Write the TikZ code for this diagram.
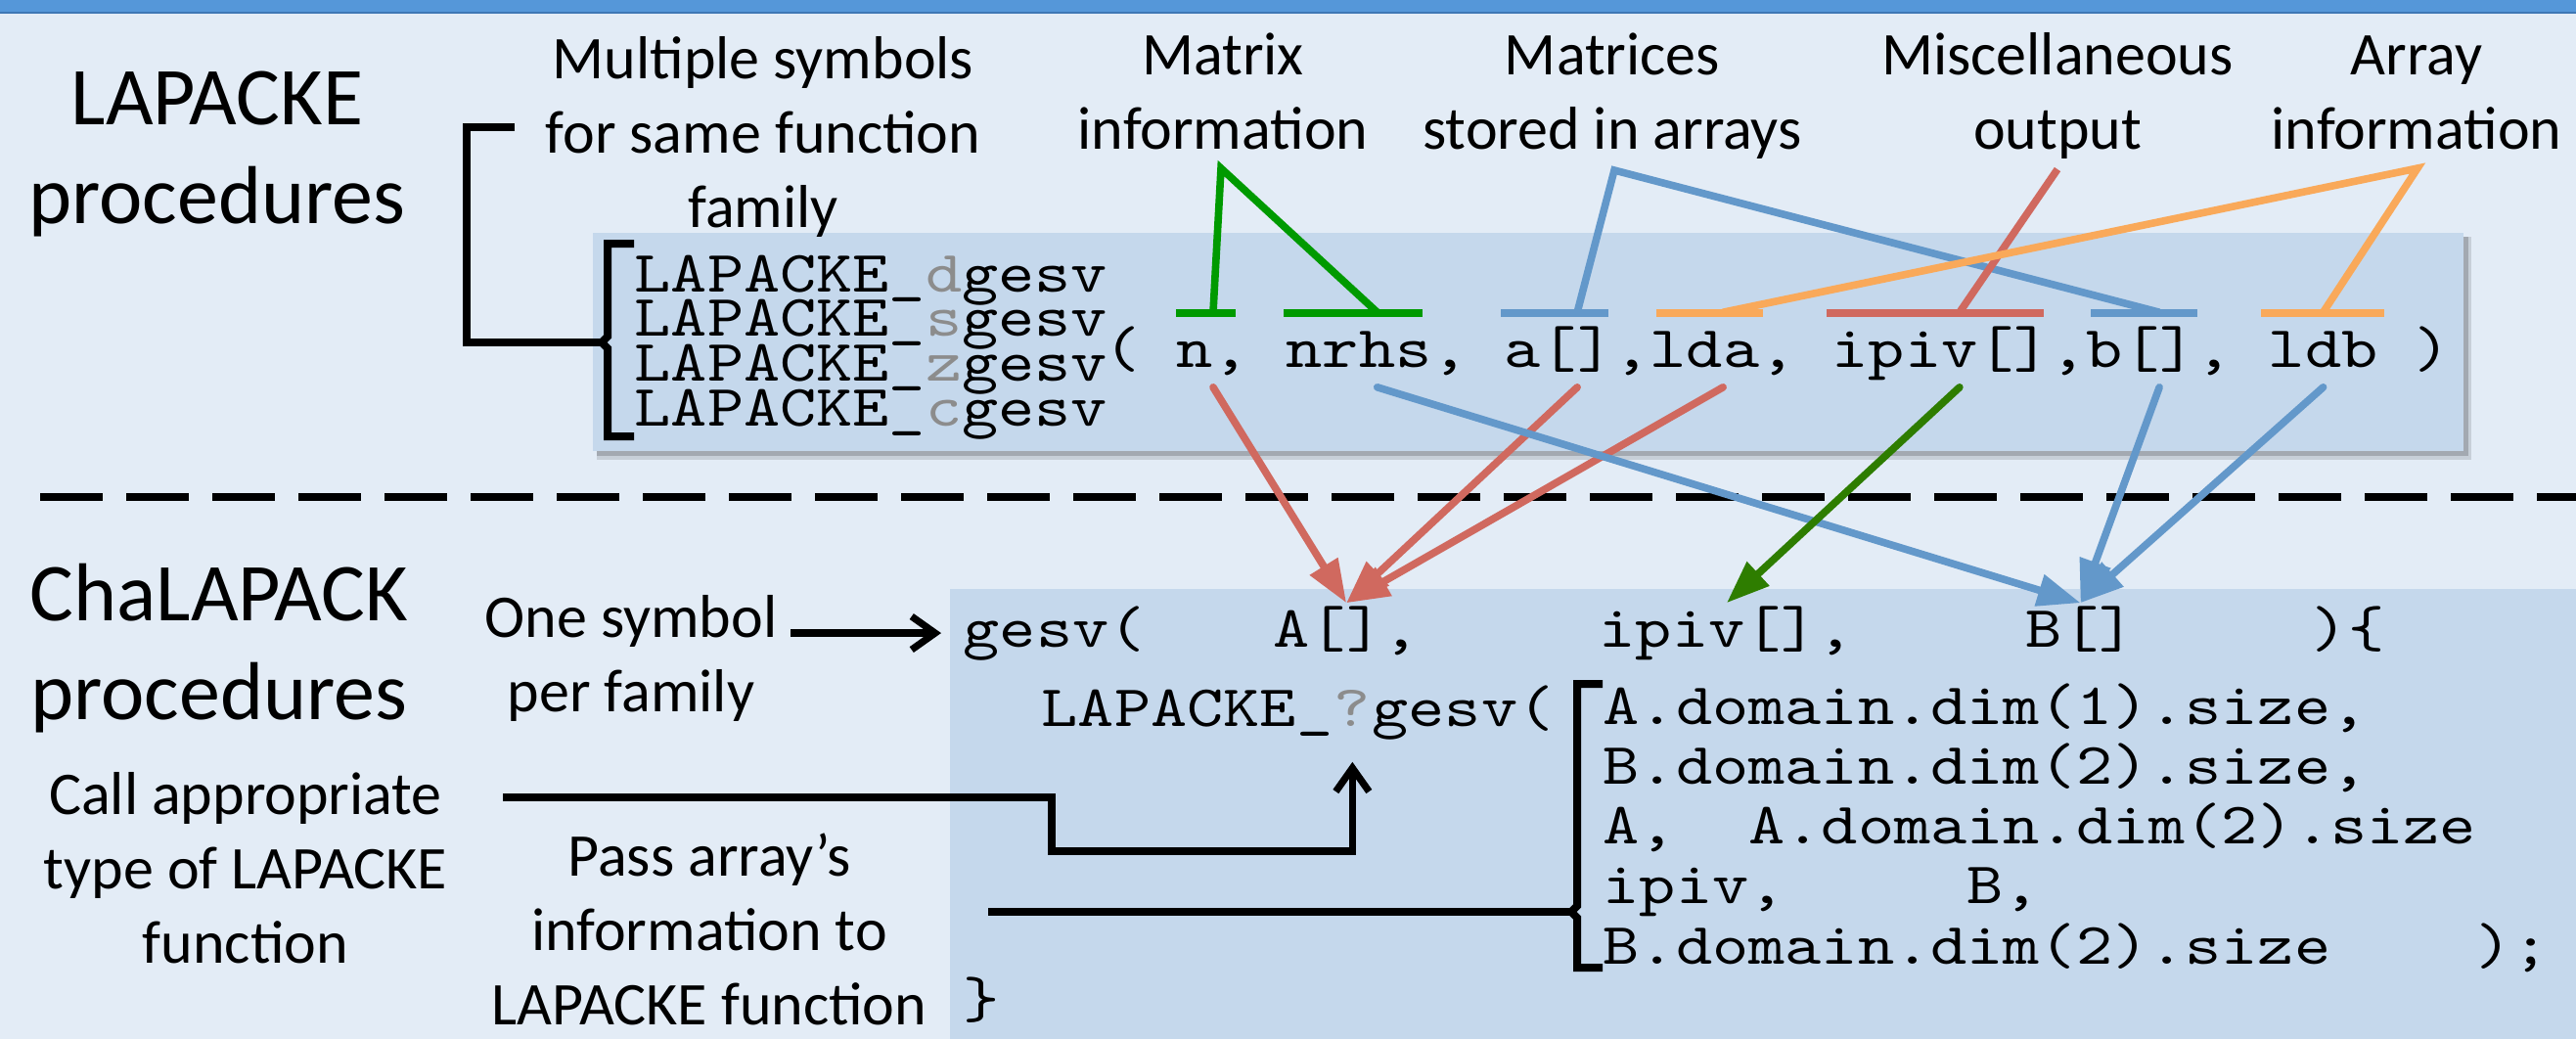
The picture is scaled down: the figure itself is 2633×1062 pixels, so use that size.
\documentclass[tikz,border=0pt]{standalone}
\usepackage{fontspec}
\setmainfont{Carlito}
\setmonofont{lmmono10-regular.otf}[FakeStretch=1.18]
\usetikzlibrary{arrows.meta,positioning,calc}

\definecolor{bgblue}{HTML}{E3ECF6}
\definecolor{boxblue}{HTML}{C5D8EC}
\definecolor{stripblue}{HTML}{5597D9}
\definecolor{stripline}{HTML}{3E77B5}
\definecolor{grn}{HTML}{009A00}
\definecolor{dkgrn}{HTML}{2E7D00}
\definecolor{rd}{HTML}{D0695F}
\definecolor{blu}{HTML}{6398CA}
\definecolor{org}{HTML}{F9A95A}
\definecolor{symgray}{HTML}{8C8C8C}

\tikzset{
    lbl/.style={font=\fontsize{15.5}{19}\selectfont, align=center, anchor=base},
    biglbl/.style={font=\fontsize{21}{25.25}\selectfont, align=center, anchor=base},
    code/.style={font=\ttfamily\fontsize{15}{15.3}\selectfont, anchor=base west, inner sep=0pt},
    arg/.style={code, text height=13.75pt, text depth=5pt},
    tgt/.style={code, text height=11pt, text depth=0pt},
    bar/.style={line width=1.9pt},
    link/.style={line width=1.9pt, line join=miter},
    arr/.style={line width=1.9pt, line cap=round, -{Triangle[length=11pt,width=8pt]}},
    blk/.style={line width=1.8pt, black},
    barb/.style={-{Straight Barb[length=6pt,width=8.5pt]}},
}

\begin{document}
\begin{tikzpicture}[x=0.25pt,y=-0.25pt]
    \useasboundingbox (0,0) rectangle (2633,1062);
    \fill[bgblue] (0,0) rectangle (2633,1062);
    \fill[stripblue] (0,0) rectangle (2633,13);
    \draw[stripline, line width=0.6pt] (0,13) -- (2633,13);
    \draw[line width=2pt, dash pattern=on 16pt off 6pt] (41,508) -- (2633,508);

    % Boxes
    \fill[black, opacity=0.12] (610,242) rectangle (2526,470);
    \fill[black, opacity=0.18] (610,242) rectangle (2523,466);
    \fill[boxblue] (606,238) rectangle (2518,461);
    \fill[boxblue] (971,602) rectangle (2633,1062);

    % LAPACKE
    \node[biglbl] (lpk) at (222,228) {LAPACKE\\procedures};
    \node[lbl] (msym) at (780,232) {Multiple symbols\\for same function\\family};
    \node[lbl] (mi) at (1250,152) {Matrix\\information};
    \node[lbl] (ms) at (1648,152) {Matrices\\stored in arrays};
    \node[lbl] (mo) at (2103,152) {Miscellaneous\\output};
    \node[lbl] (ai) at (2470,152) {Array\\information};

    \foreach \t [count=\i] in {d,s,z,c}
        \node[code] (fam\i) at (648,{298+45.7*(\i-1)}) {LAPACKE\_\textcolor{symgray}{\t}gesv};

    \node[code] (lp) at (1128,375) {(};
    \node[arg] (an) at (1202,375) {n,};
    \node[arg] (anrhs) at (1314,375) {nrhs,};
    \node[arg] (aa) at (1537,375) {a[],};
    \node[arg] (alda) at (1686,375) {lda,};
    \node[arg] (aipiv) at (1872,375) {ipiv[],};
    \node[arg] (ab) at (2132,375) {b[],};
    \node[arg] (aldb) at (2318,375) {ldb};
    \node[code] (rp) at (2467,375) {)};

    \draw[line width=2pt] (648,249) -- (621,249) -- (621,344) -- (615,350) -- (621,356) -- (621,446) -- (648,446);
    \coordinate (fb) at (615,350);
    \coordinate (msym-in) at (526,130);
    \draw[blk] (msym-in) -- ++(-49,0) |- (fb);

    % Bars and labels
    \draw[bar, grn] (1202,320) -- (1263,320);
    \draw[bar, grn] (1312,320) -- (1454,320);
    \draw[bar, blu] (1534,320) -- (1644,320);
    \draw[bar, org] (1693,320) -- (1802,320);
    \draw[bar, rd] (1867,320) -- (2089,320);
    \draw[bar, blu] (2137,320) -- (2246,320);
    \draw[bar, org] (2311,320) -- (2437,320);

    \coordinate (mi-t) at (1248,172);
    \coordinate (ms-t) at (1650,174);
    \coordinate (mo-t) at (2103,173);
    \coordinate (ai-t) at (2471,172);
    \draw[link, grn] (an.north) -- (mi-t) -- (anrhs.north);
    \draw[link, blu] (aa.north) -- (ms-t) -- (ab.north);
    \draw[link, rd] (mo-t) -- (aipiv.north);
    \draw[link, org] (alda.north) -- (ai-t) -- (aldb.north);

    % ChaLAPACK
    \node[biglbl] (clpk) at (224,735) {ChaLAPACK\\procedures};
    \node[lbl] (osym) at (645,727) {One symbol\\per family};
    \node[lbl] (call) at (251,984) {Call appropriate\\type of LAPACKE\\function};
    \node[lbl] (pass) at (725,1047) {Pass array’s\\information to\\LAPACKE function};

    \node[code] (gs) at (984,661) {gesv(};
    \node[tgt] (tA) at (1301,661) {A[],};
    \node[tgt] (tipiv) at (1634,661) {ipiv[],};
    \node[tgt] (tB) at (2070,661) {B[]};
    \node[code] (ob) at (2362,661) {)\{};

    \node[code] (lk) at (1064,742) {LAPACKE\_};
    \node[code, text=symgray, text depth=9pt] (qm) at (lk.base east) {?};
    \node[code] (gs2) at (qm.base east) {gesv(};

    \foreach \t [count=\i] in {{A.domain.dim(1).size,}, {B.domain.dim(2).size,}, {A,\ \ A.domain.dim(2).size}, {ipiv,\ \ \ \ \ B,}, {B.domain.dim(2).size\ \ \ \ );}}
        \node[code] (prm\i) at (1638,{740+61.25*(\i-1)}) {\t};
    \node[code] (cb) at (984,1040) {\}};

    \draw[line width=2pt] (1638,699) -- (1612,699) -- (1612,926) -- (1606,932) -- (1612,938) -- (1612,989) -- (1638,989);
    \coordinate (pb) at (1606,932);
    \coordinate (call-out) at (514,815);
    \coordinate (pass-out) at (1010,932);
    \draw[blk, barb, shorten >=5.5pt] (osym.east |- gs.west) -- (gs.west);
    \draw[blk, barb] (call-out) -- ++(561,0) -- ++(0,55) -| (qm.south);
    \draw[blk] (pass-out) -- (pb);

    % Arguments passed
    \draw[arr, rd] (an.south) -- (tA.north);
    \draw[arr, rd] (aa.south) -- (tA.north);
    \draw[arr, rd] (alda.south) -- (tA.north);
    \draw[arr, blu] (anrhs.south) -- (tB.north);
    \draw[arr, dkgrn] (aipiv.south) -- (tipiv.north);
    \draw[arr, blu] (ab.south) -- (tB.north);
    \draw[arr, blu] (aldb.south) -- (tB.north);
\end{tikzpicture}
\end{document}
